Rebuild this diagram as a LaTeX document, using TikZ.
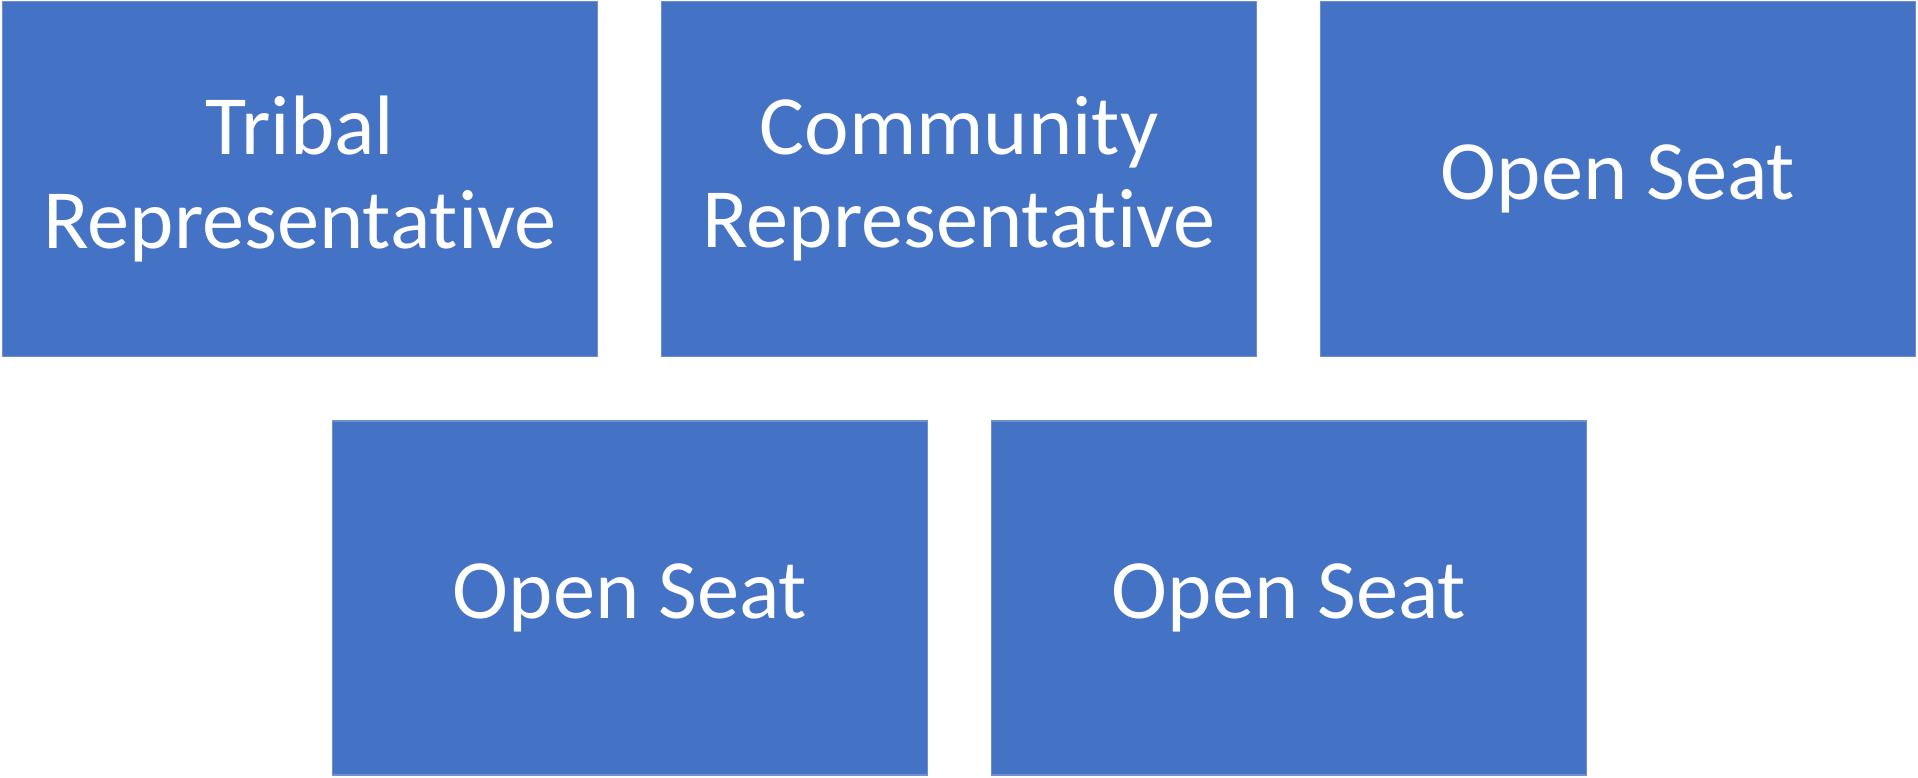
\documentclass[tikz,border=0pt]{standalone}
\usepackage{fontspec}
\setmainfont[Ligatures=NoCommon]{Carlito}
\usepackage{tikz}
\usetikzlibrary{positioning}

\definecolor{seatblue}{HTML}{4472C4}
\definecolor{seatedge}{HTML}{6F8FD0}

\tikzset{
	seat/.style={fill=seatblue, draw=seatedge, line width=0.4pt, text=white,
		minimum width=5.95cm, minimum height=3.55cm, align=center,
		font=\fontsize{24}{26.5}\selectfont}
}

\begin{document}
\begin{tikzpicture}
	\useasboundingbox (0, 0) rectangle (19.18, 7.77);

	%rangee du haut
	\node[seat] (tribal) 	at (3.00, 5.98) 	{Tribal\\Representative};
	\node[seat] (community) 	at (9.59, 5.98) 	{Community\\Representative};
	\node[seat] (openA) 	at (16.18, 5.98) 	{Open Seat};

	%rangee du bas
	\node[seat, minimum height=3.54cm] (openB) 	at (6.30, 1.79) 	{Open Seat};
	\node[seat, minimum height=3.54cm] (openC) 	at (12.89, 1.79) 	{Open Seat};

\end{tikzpicture}
\end{document}
